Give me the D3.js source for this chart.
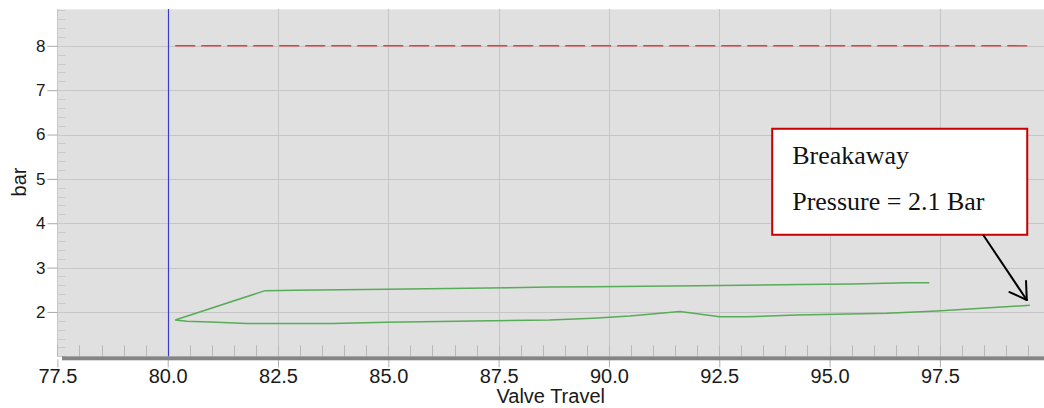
<!DOCTYPE html>
<html><head><meta charset="utf-8">
<script src="https://cdn.jsdelivr.net/npm/d3@7"></script>
<style>html,body{margin:0;padding:0;background:#fff;}svg{display:block;}</style>
</head><body>
<svg id="chart" width="1044" height="408"></svg>
<script>
// ---- data ----
const xTickValues = [77.5, 80.0, 82.5, 85.0, 87.5, 90.0, 92.5, 95.0, 97.5];
const yTickValues = [2, 3, 4, 5, 6, 7, 8];
const xDomain = [77.5, 99.86];
const yDomain = [1.0, 8.83];
const xLabel = "Valve Travel";
const yLabel = "bar";

// opening (upper) branch
const upperTravel = [80.17, 82.21, 82.89, 84.96, 87.26, 88.66, 89.64, 92.02, 94.33, 95.53, 96.76, 97.26];
const upperPressure = [1.82, 2.48, 2.49, 2.51, 2.54, 2.56, 2.57, 2.59, 2.62, 2.63, 2.66, 2.66];
// closing (lower) branch
const lowerTravel = [80.17, 80.43, 81.11, 81.79, 83.75, 84.96, 87.36, 88.65, 89.64, 90.47, 91.61, 92.51, 93.12, 94.26, 96.30, 97.43, 99.54];
const lowerPressure = [1.82, 1.79, 1.77, 1.74, 1.74, 1.77, 1.80, 1.82, 1.86, 1.91, 2.01, 1.89, 1.89, 1.93, 1.97, 2.02, 2.15];

const supplyPressure = 8;
const supplyRange = [80.17, 99.55];
const cursorTravel = 80.0;

const noteLines = ["Breakaway", "Pressure = 2.1 Bar"];
const noteBox = {x0: 93.70, x1: 99.48, y0: 6.13, y1: 3.74};
const noteArrow = {x0: 98.48, y0: 3.74, x1: 99.47, y1: 2.27};

// ---- layout ----
const svg = d3.select("#chart");
const pL = 57.4, pR = 1044, pT = 9, pB = 356.3;
const x = d3.scaleLinear().domain(xDomain).range([pL, pR]);
const y = d3.scaleLinear().domain(yDomain).range([pB, pT]);

// background
svg.append("rect").attr("x", pL).attr("y", pT).attr("width", pR - pL).attr("height", pB - pT).attr("fill", "#e0e0e0");
svg.append("line").attr("x1", pL).attr("x2", pR).attr("y1", pT + 0.5).attr("y2", pT + 0.5).attr("stroke", "#ececec");

// grid
svg.append("g").selectAll("line").data(xTickValues).join("line")
  .attr("x1", d => Math.round(x(d)) + 0.5).attr("x2", d => Math.round(x(d)) + 0.5)
  .attr("y1", pT).attr("y2", pB).attr("stroke", "#c6c6c6").attr("stroke-width", 1);
svg.append("g").selectAll("line").data(yTickValues).join("line")
  .attr("y1", d => Math.round(y(d)) + 0.5).attr("y2", d => Math.round(y(d)) + 0.5)
  .attr("x1", pL).attr("x2", pR).attr("stroke", "#c6c6c6").attr("stroke-width", 1);

// minor ticks y (inside left edge)
const yMinor = d3.range(Math.ceil(yDomain[0] * 5), Math.floor(yDomain[1] * 5) + 1).map(v => v / 5);
svg.append("g").selectAll("line").data(yMinor).join("line")
  .attr("y1", d => Math.round(y(d)) + 0.5).attr("y2", d => Math.round(y(d)) + 0.5)
  .attr("x1", pL).attr("x2", pL + 8).attr("stroke", "#cacaca");
// minor ticks x (above the bottom bar)
const xMinor = d3.range(Math.ceil(xDomain[0] * 2), Math.floor(xDomain[1] * 2) + 1).map(v => v / 2);
svg.append("g").selectAll("line").data(xMinor).join("line")
  .attr("x1", d => Math.round(x(d)) + 0.5).attr("x2", d => Math.round(x(d)) + 0.5)
  .attr("y1", pB - 11).attr("y2", pB).attr("stroke", "#b8b8b8");

// axes
const yAxis = d3.axisLeft(y).tickValues(yTickValues).tickFormat(d3.format("d")).tickSize(10).tickPadding(2);
const gy = svg.append("g").attr("transform", `translate(${pL},0)`).call(yAxis);
gy.select(".domain").remove();
gy.selectAll(".tick line").attr("stroke", "#a8a8a8");
gy.selectAll(".tick text").attr("font-family", "Liberation Sans, Arial, sans-serif").attr("font-size", 17).attr("fill", "#1a1a1a");

const xAxis = d3.axisBottom(x).tickValues(xTickValues).tickFormat(d3.format(".1f")).tickSize(8).tickPadding(2);
const gx = svg.append("g").attr("transform", `translate(0,${pB + 3})`).call(xAxis);
gx.select(".domain").remove();
gx.selectAll(".tick line").attr("stroke", "#b0b0b0");
gx.selectAll(".tick text").attr("font-family", "Liberation Sans, Arial, sans-serif").attr("font-size", 20).attr("fill", "#1a1a1a");

// bottom thick bar
svg.append("rect").attr("x", 62).attr("y", pB).attr("width", pR - 62).attr("height", 4).attr("fill", "#858585");

// axis labels
svg.append("text").attr("x", x((xDomain[0] + xDomain[1]) / 2)).attr("y", 403)
  .attr("text-anchor", "middle").attr("font-family", "Liberation Sans, Arial, sans-serif").attr("font-size", 20).attr("fill", "#1a1a1a").text(xLabel);
svg.append("text").attr("transform", `translate(26,${182}) rotate(-90)`)
  .attr("text-anchor", "middle").attr("font-family", "Liberation Sans, Arial, sans-serif").attr("font-size", 20).attr("fill", "#1a1a1a").text(yLabel);

// cursor line
svg.append("line").attr("x1", Math.round(x(cursorTravel)) + 0.5).attr("x2", Math.round(x(cursorTravel)) + 0.5)
  .attr("y1", pT).attr("y2", pB).attr("stroke", "#3b3bd0").attr("stroke-width", 1.2);

// supply pressure dashed
svg.append("line").attr("x1", x(supplyRange[0])).attr("x2", x(supplyRange[1]))
  .attr("y1", y(supplyPressure)).attr("y2", y(supplyPressure))
  .attr("stroke", "#e04040").attr("stroke-width", 1.4).attr("stroke-dasharray", "20,6");

// curves
const line = d3.line().x(d => x(d[0])).y(d => y(d[1]));
const upper = upperTravel.map((t, i) => [t, upperPressure[i]]);
const lower = lowerTravel.map((t, i) => [t, lowerPressure[i]]);
[upper, lower].forEach(s => svg.append("path").datum(s).attr("d", line)
  .attr("fill", "none").attr("stroke", "#58ab58").attr("stroke-width", 1.5));

// annotation
svg.append("rect").attr("x", x(noteBox.x0)).attr("y", y(noteBox.y0))
  .attr("width", x(noteBox.x1) - x(noteBox.x0)).attr("height", y(noteBox.y1) - y(noteBox.y0))
  .attr("fill", "#fff").attr("stroke", "#c80000").attr("stroke-width", 2);
noteLines.forEach((t, i) => svg.append("text").attr("x", x(noteBox.x0) + 20).attr("y", y(noteBox.y0) + 35 + i * 46)
  .attr("font-family", "Liberation Serif, Times New Roman, serif").attr("font-size", 26).attr("fill", "#111").text(t));

const ax0 = x(noteArrow.x0), ay0 = y(noteArrow.y0), ax1 = x(noteArrow.x1), ay1 = y(noteArrow.y1);
svg.append("line").attr("x1", ax0).attr("y1", ay0).attr("x2", ax1).attr("y2", ay1).attr("stroke", "#000").attr("stroke-width", 2);
const ang = Math.atan2(ay1 - ay0, ax1 - ax0), hl = 19, spread = 0.55;
[ang + Math.PI - spread, ang + Math.PI + spread].forEach(a => svg.append("line")
  .attr("x1", ax1).attr("y1", ay1).attr("x2", ax1 + hl * Math.cos(a)).attr("y2", ay1 + hl * Math.sin(a))
  .attr("stroke", "#000").attr("stroke-width", 2).attr("stroke-linecap", "round"));
</script>
</body></html>
